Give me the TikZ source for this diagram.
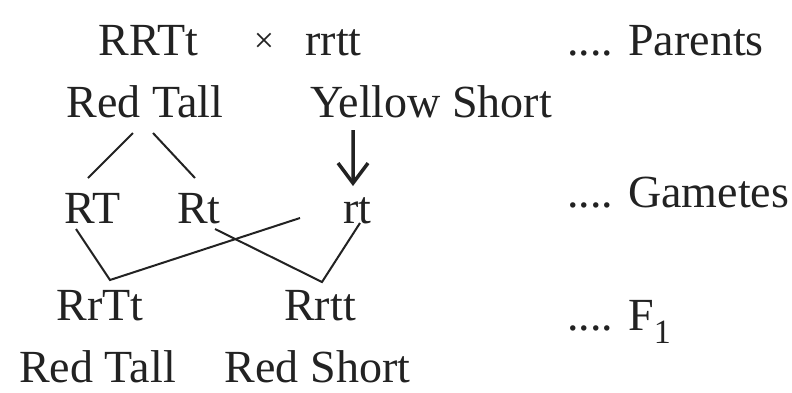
\documentclass[tikz,border=0pt]{standalone}
\usepackage{fontspec}
\setmainfont{Liberation Serif}
\usetikzlibrary{calc,arrows.meta}
\definecolor{ink}{HTML}{222222}
\begin{document}
\begin{tikzpicture}[x=1pt,y=-1pt,
  lbl/.style={inner sep=0pt,outer sep=0pt,anchor=base,text=ink,font=\fontsize{46}{50}\selectfont},
  side/.style={lbl,anchor=base west},
  link/.style={draw=ink,line width=2pt},
  downarrow/.style={draw=ink,line width=3.5pt,-{Straight Barb[length=20pt,width=30pt,line width=3.5pt]}}]
\useasboundingbox[fill=white] (0,0) rectangle (792,392);
% parents
\node[lbl] (p1) at (148.5,55) {RRTt};
\node[lbl,font=\fontsize{36}{40}\selectfont] (cross) at (264,52) {×};
\node[lbl] (p2) at (333.5,55) {rrtt};
\node[side] (lparents) at (567,55) {.... Parents};
\node[lbl] (ph1) at (145,117) {Red Tall};
\node[lbl] (ph2) at (431,117) {Yellow Short};
% gametes
\node[lbl] (g1) at (92.5,223) {RT};
\node[lbl] (g2) at (199,223) {Rt};
\node[lbl] (g3) at (357.5,223) {rt};
\node[side] (lgametes) at (567,207) {.... Gametes};
% F1
\node[lbl] (f1) at (100,320) {RrTt};
\node[lbl] (f2) at (320,320) {Rrtt};
\node[side] (lf1) at (567,330) {.... F\raisebox{-13pt}{\fontsize{34}{34}\selectfont 1}};
\node[lbl] (fh1) at (97.5,382) {Red Tall};
\node[lbl] (fh2) at (317.5,382) {Red Short};
% connectors
\draw[link] ($(ph1.base)+(-12,16)$) -- ($(g1.base)+(-4.5,-45)$);
\draw[link] ($(ph1.base)+(8,16)$) -- ($(g2.base)+(-4,-45)$);
\draw[downarrow] ($(ph2.base west)+(43,13)$) -- ($(g3.base)+(-4.5,-37)$);
\draw[link] ($(g1.base)+(-16.5,6)$) -- ($(f1.base)+(10,-40)$) -- ($(g3.base)+(-57.5,-5)$);
\draw[link] ($(g2.base)+(16,6)$) -- ($(f2.base)+(2,-38)$) -- ($(g3.base)+(2.5,0)$);
\end{tikzpicture}
\end{document}
